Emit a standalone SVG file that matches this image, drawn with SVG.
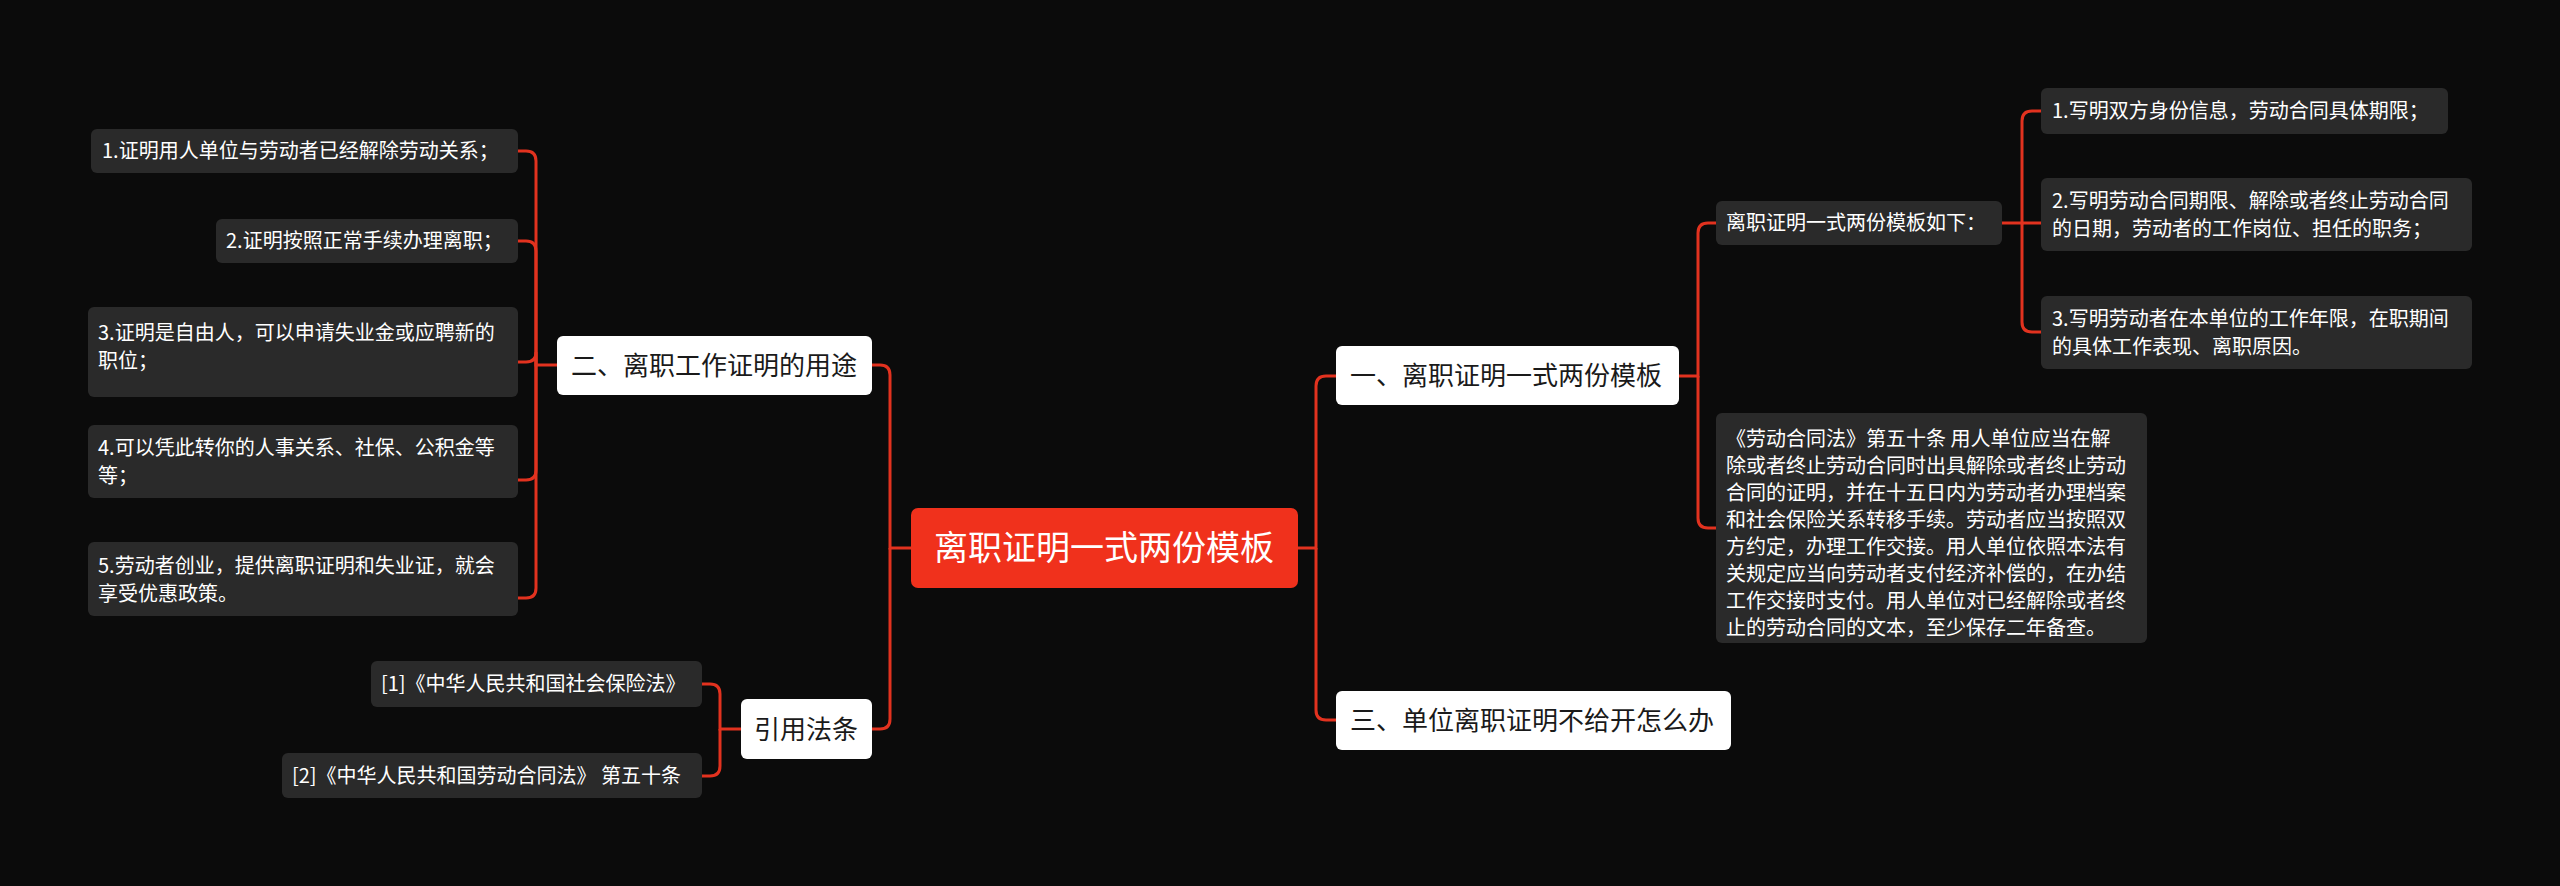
<svg xmlns="http://www.w3.org/2000/svg" width="2560" height="886" viewBox="0 0 2560 886">
<style>
text{font-family:"Noto Sans CJK SC","Noto Sans",sans-serif}
.leaf rect{fill:#2a2a2a}
.leaf text{fill:#ffffff;font-size:20px}
.sub rect{fill:#ffffff}
.sub text{fill:#1a1a1a;font-size:26px}
.c path{fill:none;stroke:#e2321f;stroke-width:3}
</style>
<rect width="2560" height="886" fill="#0b0b0b"/>
<g class="c">
<path d="M911,548 H890 V375 Q890,365 880,365 H872"/>
<path d="M890,548 V719 Q890,729 880,729 H872"/>
<path d="M1298,548 H1316 V386 Q1316,376 1326,376 H1336"/>
<path d="M1316,548 V710 Q1316,720 1326,720 H1336"/>
<path d="M557,365 H536 V161 Q536,151 526,151 H518"/>
<path d="M536,365 V251 Q536,241 526,241 H518"/>
<path d="M536,365 V352 Q536,362 526,362 H518"/>
<path d="M536,365 V470 Q536,480 526,480 H518"/>
<path d="M536,365 V588 Q536,598 526,598 H518"/>
<path d="M741,729 H720 V694 Q720,684 710,684 H702"/>
<path d="M720,729 V766 Q720,776 710,776 H702"/>
<path d="M1679,376 H1698 V233 Q1698,223 1708,223 H1716"/>
<path d="M1698,376 V518 Q1698,528 1708,528 H1716"/>
<path d="M2002,223 H2022 V121 Q2022,111 2032,111 H2041"/>
<path d="M2022,223 H2041"/>
<path d="M2022,223 V322 Q2022,332 2032,332 H2041"/>
</g>
<g id="root"><rect x="911" y="508" width="387" height="80" rx="7" fill="#f0311c"/><text x="1104" y="560" font-size="34" fill="#fff" text-anchor="middle">离职证明一式两份模板</text></g>
<g id="n2" class="sub"><rect x="557" y="336" width="315" height="59" rx="6"/><text x="714" y="375" text-anchor="middle">二、离职工作证明的用途</text></g>
<g id="nref" class="sub"><rect x="741" y="699" width="131" height="60" rx="6"/><text x="806" y="739" text-anchor="middle">引用法条</text></g>
<g id="n1" class="sub"><rect x="1336" y="346" width="343" height="59" rx="6"/><text x="1350" y="385">一、离职证明一式两份模板</text></g>
<g id="n3" class="sub"><rect x="1336" y="691" width="395" height="59" rx="6"/><text x="1350" y="730">三、单位离职证明不给开怎么办</text></g>
<g id="l1" class="leaf"><rect x="91" y="129" width="427" height="44" rx="6"/><text x="102" y="158">1.证明用人单位与劳动者已经解除劳动关系；</text></g>
<g id="l2" class="leaf"><rect x="216" y="219" width="302" height="44" rx="6"/><text x="226" y="248">2.证明按照正常手续办理离职；</text></g>
<g id="l3" class="leaf"><rect x="88" y="307" width="430" height="90" rx="6"/><text x="98" y="340">3.证明是自由人，可以申请失业金或应聘新的</text><text x="98" y="368">职位；</text></g>
<g id="l4" class="leaf"><rect x="88" y="425" width="430" height="73" rx="6"/><text x="98" y="455">4.可以凭此转你的人事关系、社保、公积金等</text><text x="98" y="483">等；</text></g>
<g id="l5" class="leaf"><rect x="88" y="542" width="430" height="74" rx="6"/><text x="98" y="573">5.劳动者创业，提供离职证明和失业证，就会</text><text x="98" y="601">享受优惠政策。</text></g>
<g id="r1" class="leaf"><rect x="371" y="661" width="331" height="46" rx="6"/><text x="381" y="691">[1]《中华人民共和国社会保险法》</text></g>
<g id="r2" class="leaf"><rect x="282" y="753" width="420" height="45" rx="6"/><text x="292" y="783">[2]《中华人民共和国劳动合同法》 第五十条</text></g>
<g id="t0" class="leaf"><rect x="1716" y="201" width="286" height="44" rx="6"/><text x="1726" y="230">离职证明一式两份模板如下：</text></g>
<g id="law" class="leaf"><rect x="1716" y="413" width="431" height="230" rx="6"/>
<text x="1726" y="446">《劳动合同法》第五十条 用人单位应当在解</text>
<text x="1726" y="473">除或者终止劳动合同时出具解除或者终止劳动</text>
<text x="1726" y="500">合同的证明，并在十五日内为劳动者办理档案</text>
<text x="1726" y="527">和社会保险关系转移手续。劳动者应当按照双</text>
<text x="1726" y="554">方约定，办理工作交接。用人单位依照本法有</text>
<text x="1726" y="581">关规定应当向劳动者支付经济补偿的，在办结</text>
<text x="1726" y="608">工作交接时支付。用人单位对已经解除或者终</text>
<text x="1726" y="635">止的劳动合同的文本，至少保存二年备查。</text></g>
<g id="t1" class="leaf"><rect x="2041" y="88" width="407" height="46" rx="6"/><text x="2052" y="118">1.写明双方身份信息，劳动合同具体期限；</text></g>
<g id="t2" class="leaf"><rect x="2041" y="178" width="431" height="73" rx="6"/><text x="2052" y="208">2.写明劳动合同期限、解除或者终止劳动合同</text><text x="2052" y="236">的日期，劳动者的工作岗位、担任的职务；</text></g>
<g id="t3" class="leaf"><rect x="2041" y="296" width="431" height="73" rx="6"/><text x="2052" y="326">3.写明劳动者在本单位的工作年限，在职期间</text><text x="2052" y="354">的具体工作表现、离职原因。</text></g>
</svg>
